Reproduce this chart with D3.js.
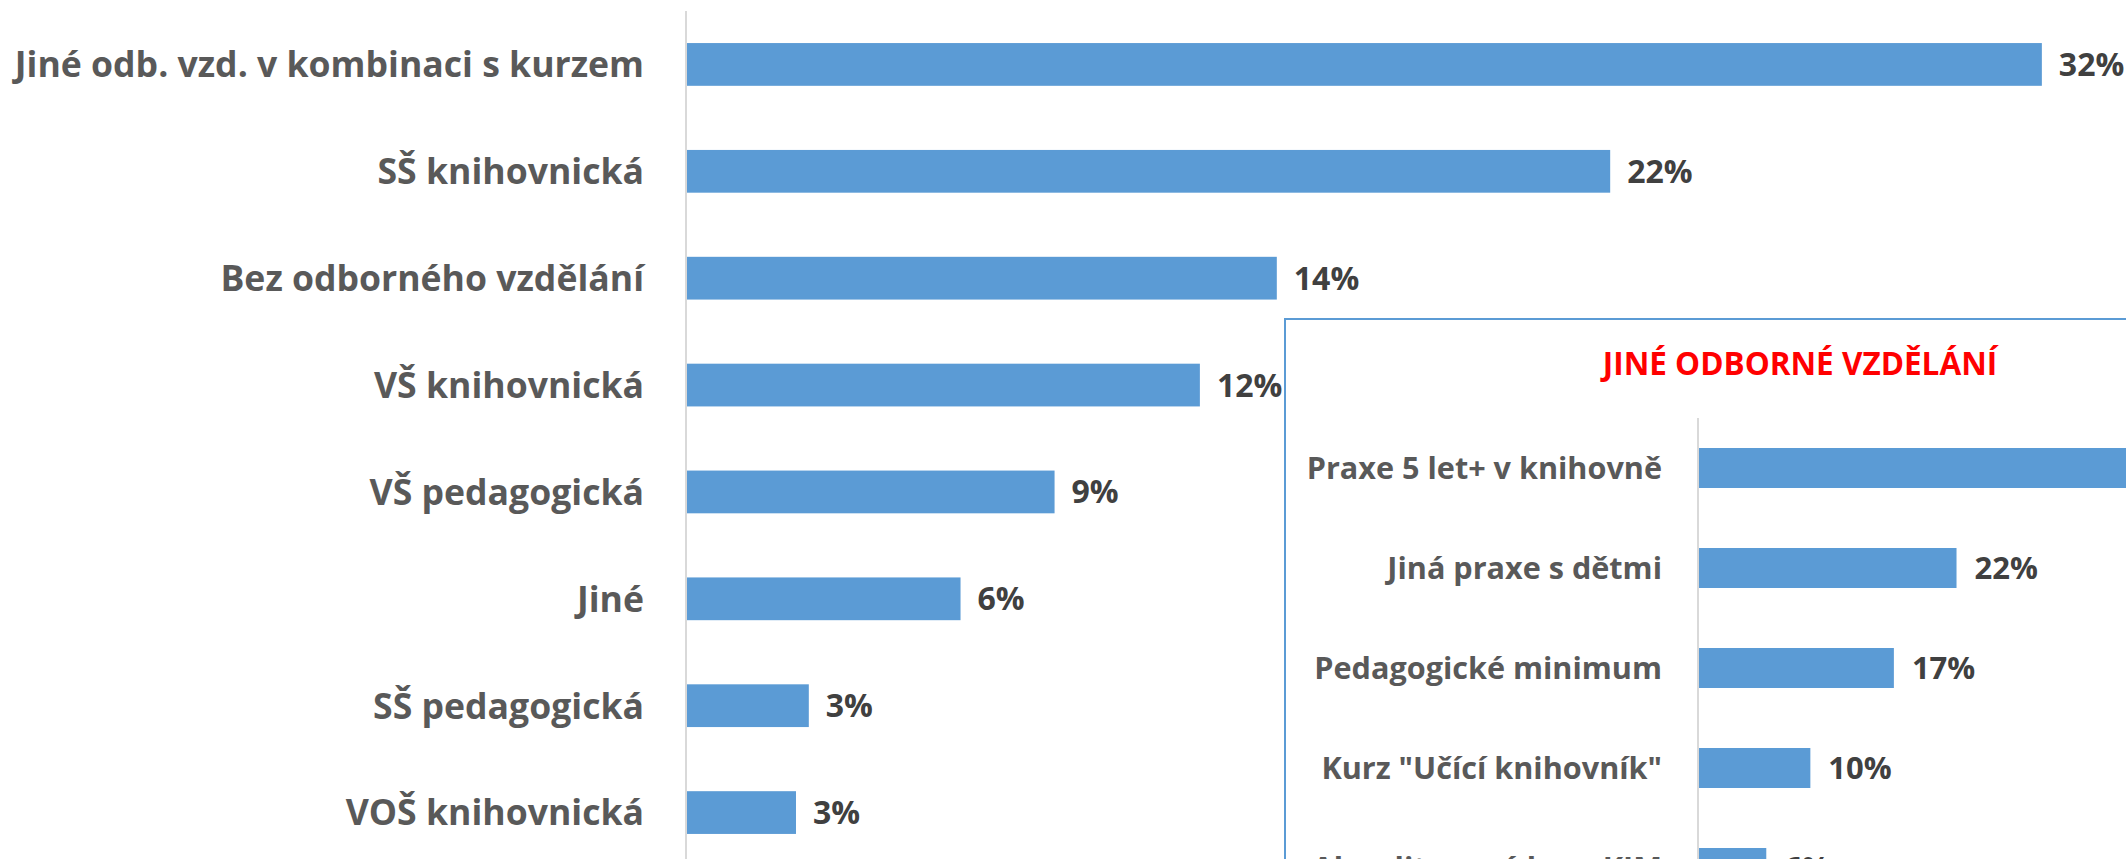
<!DOCTYPE html>
<html>
<head>
<meta charset="utf-8">
<script src="https://cdn.jsdelivr.net/npm/d3@7"></script>
<style>
  body { margin: 0; background: #fff; }
  text { font-family: "Open Sans", sans-serif; font-weight: bold; }
</style>
</head>
<body>
<svg id="chart"></svg>
<script>
// main chart data
var categories = ["Jiné odb. vzd. v kombinaci s kurzem", "SŠ knihovnická", "Bez odborného vzdělání",
  "VŠ knihovnická", "VŠ pedagogická", "Jiné", "SŠ pedagogická", "VOŠ knihovnická"];
var values = [0.317, 0.216, 0.138, 0.120, 0.086, 0.064, 0.0285, 0.0255];

// inset "jiné odborné vzdělání"
var insetTitle = "JINÉ ODBORNÉ VZDĚLÁNÍ";
var insetCategories = ["Praxe 5 let+ v knihovně", "Jiná praxe s dětmi", "Pedagogické minimum",
  "Kurz \"Učící knihovník\"", "Akreditovaný kurz KIM"];
var insetValues = [0.44, 0.222, 0.168, 0.096, 0.058];

var width = 2126, height = 859;
var barColor = "#5b9bd5";
var fmt = d3.format(".0%");

var svg = d3.select("#chart")
  .attr("width", width)
  .attr("height", height);

//main bars
var y = d3.scaleBand()
  .domain(categories)
  .range([11, 866])
  .paddingInner(0.6)
  .paddingOuter(0.3);

var x = d3.scaleLinear()
  .domain([0, 0.35])
  .range([687, 687 + 0.35 * 4274]);

var main = svg.append("g");

main.selectAll(".bar")
  .data(values)
  .enter().append("rect")
  .attr("class", "bar")
  .attr("x", x(0))
  .attr("y", function (d, i) { return y(categories[i]); })
  .attr("width", function (d) { return x(d) - x(0); })
  .attr("height", y.bandwidth())
  .attr("fill", barColor);

main.append("line")
  .attr("x1", x(0) - 1).attr("x2", x(0) - 1)
  .attr("y1", 11).attr("y2", 866)
  .attr("stroke", "#d9d9d9")
  .attr("stroke-width", 2);

main.selectAll(".cat")
  .data(categories)
  .enter().append("text")
  .attr("class", "cat")
  .attr("x", x(0) - 43)
  .attr("y", function (d) { return y(d) + y.bandwidth() / 2; })
  .attr("dy", "0.36em")
  .attr("text-anchor", "end")
  .attr("fill", "#595959")
  .style("font-size", "35.6px")
  .text(function (d) { return d; });

main.selectAll(".val")
  .data(values)
  .enter().append("text")
  .attr("class", "val")
  .attr("x", function (d) { return x(d) + 17; })
  .attr("y", function (d, i) { return y(categories[i]) + y.bandwidth() / 2; })
  .attr("dy", "0.36em")
  .attr("fill", "#404040")
  .style("font-size", "32px")
  .text(function (d) { return fmt(d); });

// inset box
var inset = svg.append("g");

inset.append("rect")
  .attr("x", 1285).attr("y", 319)
  .attr("width", 1000).attr("height", 700)
  .attr("fill", "#fff")
  .attr("stroke", barColor)
  .attr("stroke-width", 2);

inset.append("text")
  .attr("x", 1800).attr("y", 375)
  .attr("text-anchor", "middle")
  .attr("fill", "#ff0000")
  .style("font-size", "31.5px")
  .text(insetTitle);

var y2 = d3.scaleBand()
  .domain(insetCategories)
  .range([418, 918])
  .paddingInner(0.6)
  .paddingOuter(0.3);

var x2 = d3.scaleLinear()
  .domain([0, 0.5])
  .range([1699, 1699 + 0.5 * 1160]);

inset.selectAll(".ibar")
  .data(insetValues)
  .enter().append("rect")
  .attr("class", "ibar")
  .attr("x", x2(0))
  .attr("y", function (d, i) { return y2(insetCategories[i]); })
  .attr("width", function (d) { return x2(d) - x2(0); })
  .attr("height", y2.bandwidth())
  .attr("fill", barColor);

inset.append("line")
  .attr("x1", x2(0) - 1).attr("x2", x2(0) - 1)
  .attr("y1", 418).attr("y2", 918)
  .attr("stroke", "#d9d9d9")
  .attr("stroke-width", 2);

inset.selectAll(".icat")
  .data(insetCategories)
  .enter().append("text")
  .attr("class", "icat")
  .attr("x", x2(0) - 37)
  .attr("y", function (d) { return y2(d) + y2.bandwidth() / 2; })
  .attr("dy", "0.36em")
  .attr("text-anchor", "end")
  .attr("fill", "#595959")
  .style("font-size", "30.6px")
  .text(function (d) { return d; });

inset.selectAll(".ival")
  .data(insetValues)
  .enter().append("text")
  .attr("class", "ival")
  .attr("x", function (d) { return x2(d) + 18; })
  .attr("y", function (d, i) { return y2(insetCategories[i]) + y2.bandwidth() / 2; })
  .attr("dy", "0.36em")
  .attr("fill", "#404040")
  .style("font-size", "31px")
  .text(function (d) { return fmt(d); });
</script>
</body>
</html>
